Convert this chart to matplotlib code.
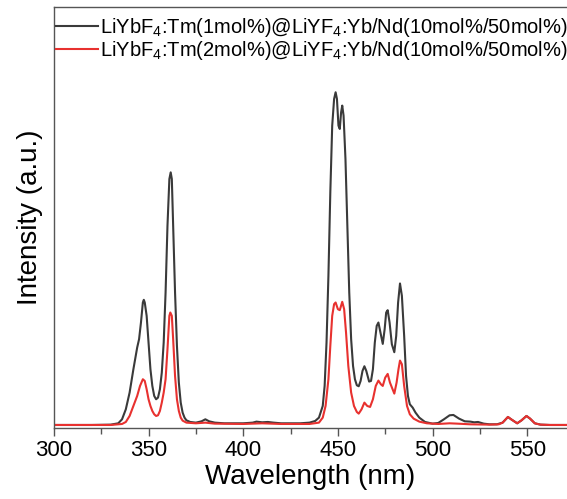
import matplotlib.pyplot as plt
import numpy as np

plt.rcParams['font.family'] = ['Liberation Sans', 'DejaVu Sans']
plt.rcParams['mathtext.fontset'] = 'custom'
plt.rcParams['mathtext.rm'] = 'Liberation Sans'
plt.rcParams['mathtext.it'] = 'Liberation Sans:italic'

wl_1 = [300, 320, 330, 334, 336, 338, 340, 342, 344, 345, 346, 347, 347.5, 348, 349,
        350, 351, 352, 353, 354, 355, 356, 357, 358, 359, 360, 361, 361.7, 362.3, 363,
        364, 365, 366, 367, 368, 369, 370, 372, 375, 378, 380, 382, 385, 390, 400,
        405, 407, 410, 413, 416, 420, 430, 435, 438, 440, 442, 443, 444, 445, 446,
        447, 448, 448.8, 449.5, 450.3, 451, 451.7, 452.3, 453, 454, 455, 456, 457, 458,
        459, 460, 461, 462, 463, 464, 465, 466.5, 467.5, 468.5, 469.5, 470.5, 471.4,
        472.5, 473.7, 474.7, 475.5, 476.3, 477.3, 478.5, 479.8, 480.8, 481.8, 482.8,
        483.8, 485, 486, 487, 488, 489.5, 491, 493, 496, 500, 503, 506, 509, 511, 514,
        517, 520, 522, 524, 527, 530, 534, 537, 539.8, 541.5, 544.7, 547, 549.6, 551.5,
        554, 557, 562, 572]
int_1 = [0.003, 0.003, 0.004, 0.008, 0.02, 0.05, 0.10, 0.17, 0.235, 0.26, 0.31, 0.37, 0.378, 0.37, 0.33,
         0.25, 0.17, 0.12, 0.09, 0.08, 0.085, 0.11, 0.16, 0.25, 0.40, 0.60, 0.74, 0.76, 0.74, 0.60,
         0.40, 0.24, 0.13, 0.07, 0.04, 0.025, 0.017, 0.012, 0.010, 0.014, 0.020, 0.014, 0.010, 0.008, 0.008,
         0.010, 0.013, 0.011, 0.012, 0.010, 0.008, 0.008, 0.010, 0.015, 0.025, 0.06, 0.12, 0.25, 0.45, 0.70,
         0.90, 0.98, 1.0, 0.98, 0.90, 0.89, 0.94, 0.96, 0.93, 0.80, 0.60, 0.40, 0.26, 0.18,
         0.14, 0.122, 0.119, 0.135, 0.165, 0.179, 0.165, 0.133, 0.135, 0.17, 0.25, 0.30, 0.31,
         0.28, 0.246, 0.29, 0.34, 0.347, 0.31, 0.245, 0.221, 0.27, 0.37, 0.427,
         0.39, 0.27, 0.15, 0.09, 0.065, 0.055, 0.04, 0.025, 0.012, 0.007, 0.009, 0.020, 0.032, 0.033, 0.022,
         0.014, 0.013, 0.011, 0.012, 0.007, 0.005, 0.005, 0.010, 0.027, 0.020, 0.008, 0.017, 0.030, 0.022,
         0.008, 0.004, 0.003, 0.003]

wl_2 = [300, 330, 336, 338, 340, 342, 344, 345.5, 347, 348, 349, 350, 351, 352, 353,
        354, 355, 356, 357, 358, 359, 360, 361, 361.5, 362.3, 363, 364, 365, 366, 367,
        368, 370, 375, 380, 385, 400, 410, 420, 435, 440, 442, 443.5, 445, 446, 447,
        448, 448.8, 450, 451, 452.3, 453.3, 454.3, 455.5, 457, 458.5, 460, 461, 462.5,
        464, 465.5, 467, 468.5, 470, 471.4, 472.7, 473.7, 475, 476.3, 477.5, 479.8, 481,
        482, 482.8, 483.8, 485, 486.5, 488, 490, 493, 497, 503, 509, 513, 520, 530, 535,
        537, 539.8, 541.5, 544.7, 547, 549.6, 551.5, 554, 557, 562, 572]
int_2 = [0.003, 0.003, 0.006, 0.012, 0.03, 0.06, 0.09, 0.12, 0.14, 0.135, 0.11, 0.08, 0.06, 0.045, 0.035,
         0.03, 0.032, 0.045, 0.07, 0.10, 0.14, 0.23, 0.33, 0.34, 0.33, 0.26, 0.15, 0.08, 0.045, 0.025,
         0.016, 0.010, 0.008, 0.010, 0.007, 0.006, 0.008, 0.006, 0.006, 0.010, 0.025, 0.06, 0.14, 0.24, 0.33,
         0.365, 0.37, 0.35, 0.347, 0.372, 0.35, 0.28, 0.18, 0.10, 0.06, 0.042, 0.037, 0.05,
         0.07, 0.06, 0.057, 0.08, 0.12, 0.136, 0.125, 0.12, 0.145, 0.156, 0.13, 0.097, 0.13,
         0.17, 0.196, 0.185, 0.12, 0.06, 0.035, 0.022, 0.013, 0.008, 0.006, 0.008, 0.007, 0.005, 0.004, 0.005,
         0.010, 0.027, 0.020, 0.008, 0.017, 0.030, 0.022, 0.008, 0.004, 0.003, 0.003]

labels = ['LiYbF$_4$:Tm(1mol%)@LiYF$_4$:Yb/Nd(10mol%/50mol%)',
          'LiYbF$_4$:Tm(2mol%)@LiYF$_4$:Yb/Nd(10mol%/50mol%)']
colors = ['#3a3a3a', '#e8312f']

#%% Figura
fig = plt.figure(figsize=(5.67, 4.99), dpi=100)
ax = fig.add_axes([0.095, 0.143, 0.905, 0.842])

ax.plot(wl_1, int_1, color=colors[0], lw=1.5, label=labels[0])
ax.plot(wl_2, int_2, color=colors[1], lw=1.5, label=labels[1])

ax.set_xlim(300, 571)
ax.set_ylim(-0.005, 1.254)
ax.set_xticks([300, 350, 400, 450, 500, 550])
ax.set_xticks(np.arange(325, 571, 50), minor=True)
ax.set_yticks([])

for s in ['left', 'bottom', 'top']:
    ax.spines[s].set_color('#555555')
    ax.spines[s].set_linewidth(1.0)
ax.spines['right'].set_visible(False)

ax.tick_params(axis='x', which='major', direction='out', length=6, width=1,
               color='#555555', labelsize=16, pad=3)
ax.tick_params(axis='x', which='minor', direction='out', length=4, width=1,
               color='#555555')

ax.set_xlabel('Wavelength (nm)', fontsize=20, labelpad=2)
ax.set_ylabel('Intensity (a.u.)', fontsize=20, labelpad=8)

ax.legend(loc='upper left', bbox_to_anchor=(0.0, 0.985), frameon=False,
          fontsize=14.5, handlelength=2.1, handletextpad=0.08, borderpad=0.1,
          borderaxespad=0.0, labelspacing=0.0)

fig.savefig('out.png', dpi=100)
